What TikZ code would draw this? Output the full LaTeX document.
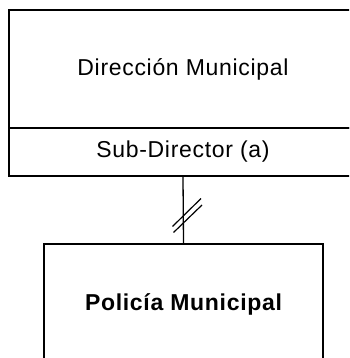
\documentclass[tikz,border=0pt]{standalone}
\usepackage{fontspec}
\usetikzlibrary{calc}
\setmainfont{Liberation Sans}[LetterSpace=3]
\begin{document}
\begin{tikzpicture}[x=1pt,y=-1pt,
  box/.style={draw=black,line width=1.3pt,rectangle,inner sep=0pt,font=\fontsize{23}{27}\selectfont},
  conn/.style={draw=black,line width=1.3pt}]
\useasboundingbox (0,0) rectangle (349,358);
\clip (0,0) rectangle (349,358);
\node[box,minimum width=348pt,minimum height=118pt] (dir) at (183,69) {Dirección Municipal};
\node[box,minimum width=348pt,minimum height=48pt] (sub) at (183,152) {Sub-Director (a)};
\node[box,minimum width=279pt,minimum height=120pt,font=\fontsize{23}{27}\selectfont\bfseries] (pol) at (183.5,304) {Policía Municipal};
\draw[conn] (sub.south) -- (pol.north);
\coordinate (m) at (187,215.5);
\draw[conn,line width=1.2pt] ($(m)+(-14.5,11)$) -- ($(m)+(14,-17)$);
\draw[conn,line width=1.2pt] ($(m)+(-13.5,17)$) -- ($(m)+(15,-10.5)$);
\end{tikzpicture}
\end{document}
